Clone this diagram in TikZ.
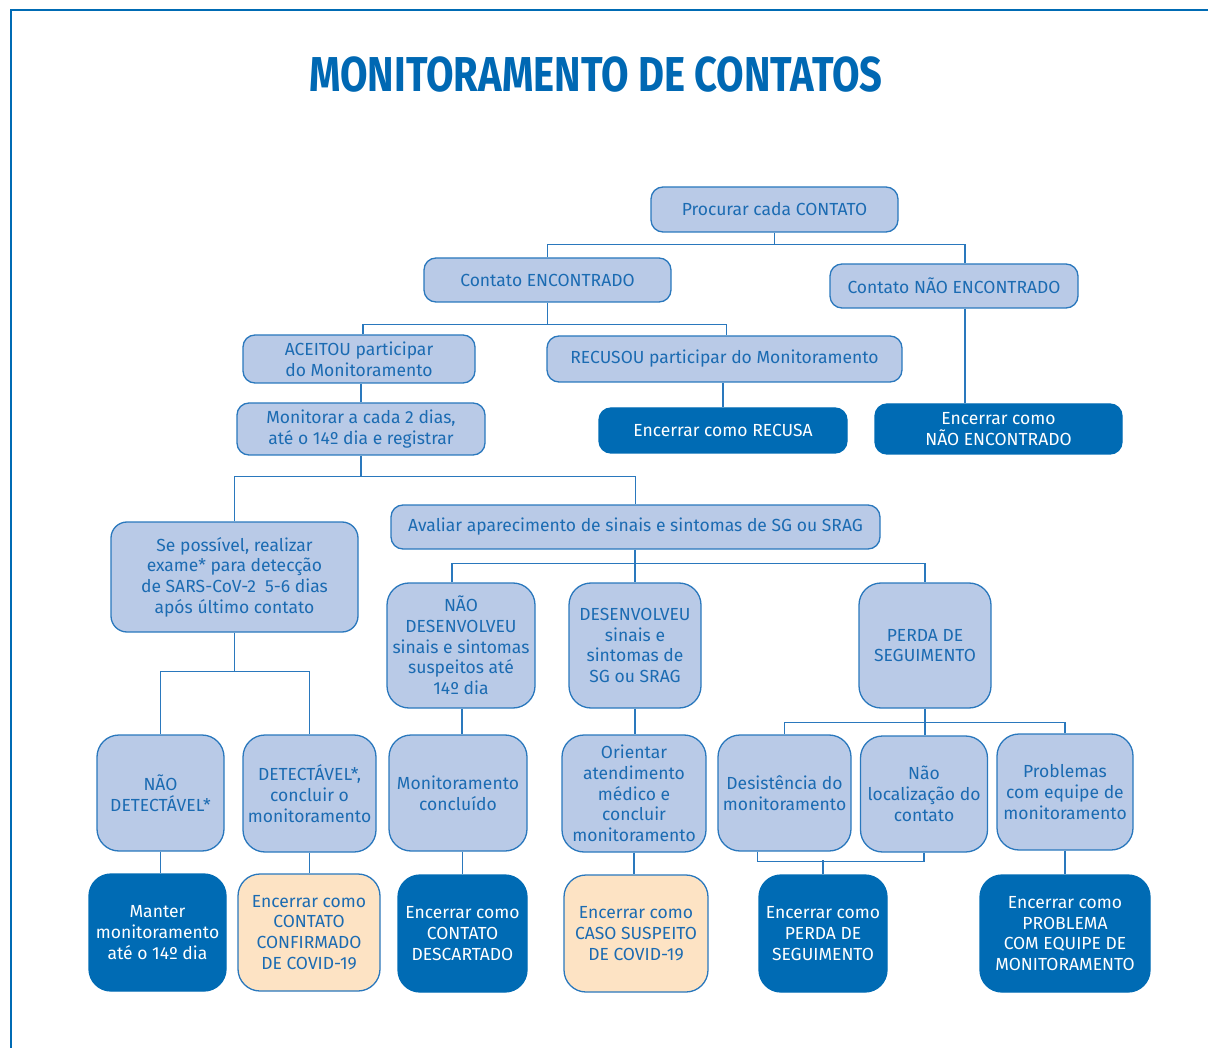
\documentclass[tikz,border=0pt]{standalone}
\usepackage{fontspec}
\setmainfont{Fira Sans}
\definecolor{lightc}{HTML}{B9CAE7}
\definecolor{bordc}{HTML}{2A78BD}
\definecolor{txtc}{HTML}{1B6BB2}
\definecolor{darkc}{HTML}{006BB4}
\definecolor{peachc}{HTML}{FDE3C4}
\definecolor{titlec}{HTML}{0068B3}
\begin{document}
\begin{tikzpicture}[x=1pt,y=-1pt,
  base/.style={align=center, inner sep=0pt, line width=1.3pt, font=\fontsize{17.5}{20.7}\selectfont},
  lb/.style={base, draw=bordc, fill=lightc, text=txtc, rounded corners=12pt},
  lbt/.style={lb, rounded corners=22pt},
  dk/.style={base, draw=darkc, fill=darkc, text=white, rounded corners=12pt},
  dkt/.style={dk, rounded corners=22pt},
  pc/.style={base, draw=bordc, fill=peachc, text=txtc, rounded corners=22pt},
  sz/.style 2 args={minimum width=#1pt, minimum height=#2pt},
  conn/.style={draw=bordc, line width=1.4pt},
  frame/.style={draw=darkc, line width=1.8pt}]
\useasboundingbox (0,0) rectangle (1208,1048);
\draw[frame] (1208,10) -- (11,10) -- (11,1048);

\node[text=titlec, font=\fontsize{49}{55}\bfseries\selectfont] (title) at (596,75) {\scalebox{0.815}[1]{MONITORAMENTO DE CONTATOS}};

\node[lb, sz={247}{45}] (proc) at (774.5,209.5) {Procurar cada CONTATO};
\node[lb, sz={247}{44}] (enc) at (547.5,280) {Contato ENCONTRADO};
\node[lb, sz={248}{44}] (nenc) at (954,286) {Contato NÃO ENCONTRADO};
\node[lb, sz={232}{48}] (acc) at (359,359) {ACEITOU participar\\do Monitoramento};
\node[lb, sz={355}{46}] (rec) at (724.5,359) {RECUSOU participar do Monitoramento};
\node[lb, sz={248}{52}] (mon) at (361,429) {Monitorar a cada 2 dias,\\até o 14º dia e registrar};
\node[dk, sz={248}{45}] (recusa) at (723,430.5) {Encerrar como RECUSA};
\node[dk, sz={247}{50}] (encnf) at (998.5,429) {Encerrar como\\NÃO ENCONTRADO};
\node[lb, rounded corners=16pt, sz={247}{110}] (sep) at (234.5,577) {Se possível, realizar\\exame* para detecção\\de SARS-CoV-2~~5-6 dias\\após último contato};
\node[lb, sz={489}{44}] (aval) at (635.5,527) {Avaliar aparecimento de sinais e sintomas de SG ou SRAG};
\node[lbt, sz={148}{125}] (ndes) at (461,645.5) {NÃO\\DESENVOLVEU\\sinais e sintomas\\suspeitos até\\14º dia};
\node[lbt, sz={132}{125}] (des) at (635,645.5) {DESENVOLVEU\\sinais e\\sintomas de\\SG ou SRAG};
\node[lbt, sz={132}{125}] (perda) at (925,645.5) {PERDA DE\\SEGUIMENTO};
\node[lbt, sz={127}{116}] (ndet) at (160.5,793) {NÃO\\DETECTÁVEL*};
\node[lbt, sz={133}{117}] (det) at (309.5,793.5) {DETECTÁVEL*,\\concluir o\\monitoramento};
\node[lbt, sz={138}{116}] (mc) at (458,793) {Monitoramento\\concluído};
\node[lbt, sz={144}{117}] (orient) at (634,793.5) {Orientar\\atendimento\\médico e\\concluir\\monitoramento};
\node[lbt, sz={133}{116}] (desist) at (784.5,793) {Desistência do\\monitoramento};
\node[lbt, sz={127}{116}] (naoloc) at (924,794) {Não\\localização do\\contato};
\node[lbt, sz={136}{116}] (prob) at (1065,792) {Problemas\\com equipe de\\monitoramento};
\node[dkt, sz={137}{117}] (manter) at (157.5,932.5) {Manter\\monitoramento\\até o 14º dia};
\node[pc, sz={142}{117}] (conf) at (309,932.5) {Encerrar como\\CONTATO\\CONFIRMADO\\DE COVID-19};
\node[dkt, sz={129}{117}] (descart) at (462.5,933.5) {Encerrar como\\CONTATO\\DESCARTADO};
\node[pc, sz={144}{117}] (caso) at (636,933.5) {Encerrar como\\CASO SUSPEITO\\DE COVID-19};
\node[dkt, sz={128}{117}] (perdaf) at (823,933.5) {Encerrar como\\PERDA DE\\SEGUIMENTO};
\node[dkt, sz={170}{117}] (probf) at (1065,933.5) {Encerrar como\\PROBLEMA\\COM EQUIPE DE\\MONITORAMENTO};

% connectors
\draw[conn] (proc.south) -- ++(0,12) coordinate (j1);
\draw[conn] (enc.north) |- (j1) -| ([xshift=11pt]nenc.north);
\draw[conn] ([xshift=11pt]nenc.south) -- ([xshift=11pt]nenc.south |- encnf.north);
\draw[conn] (enc.south) -- ++(0,22) coordinate (j2);
\draw[conn] ([xshift=4pt]acc.north) |- (j2) -| ([xshift=2pt]rec.north);
\draw[conn] (rec.south -| recusa.north) -- (recusa.north);
\draw[conn] (acc.south -| mon.north) -- (mon.north);
\draw[conn] (mon.south) -- ++(0,21) coordinate (j3);
\draw[conn] (sep.north) |- (j3) -| (aval.north);
\draw[conn] (aval.south -| des.north) -- (des.north);
\draw[conn] ([xshift=-9pt]ndes.north) |- ([yshift=19pt]des.north) -| (perda.north);
\draw[conn] ([xshift=1pt]ndes.south) -- ([xshift=1pt]ndes.south |- mc.north);
\draw[conn] (mc.south -| descart.north) -- (descart.north);
\draw[conn] (des.south) -- (des.south |- orient.north);
\draw[conn] (orient.south) -- (orient.south |- caso.north);
\draw[conn] (sep.south) -- ++(0,39) coordinate (j4);
\draw[conn] (ndet.north) |- (j4) -| (det.north);
\draw[conn] (ndet.south) -- (ndet.south |- manter.north);
\draw[conn] (det.south) -- (det.south |- conf.north);
\draw[conn] (perda.south) -- ++(0,14) coordinate (j5);
\draw[conn] (desist.north) |- (j5) -| (prob.north);
\draw[conn] (j5) -- (j5 |- naoloc.north);
\draw[conn] ([xshift=-27pt]desist.south) -- ++(0,10) -| (naoloc.south);
\draw[conn] (perdaf.north) -- ++(0,-14);
\draw[conn] (prob.south) -- (probf.north);
\end{tikzpicture}
\end{document}
